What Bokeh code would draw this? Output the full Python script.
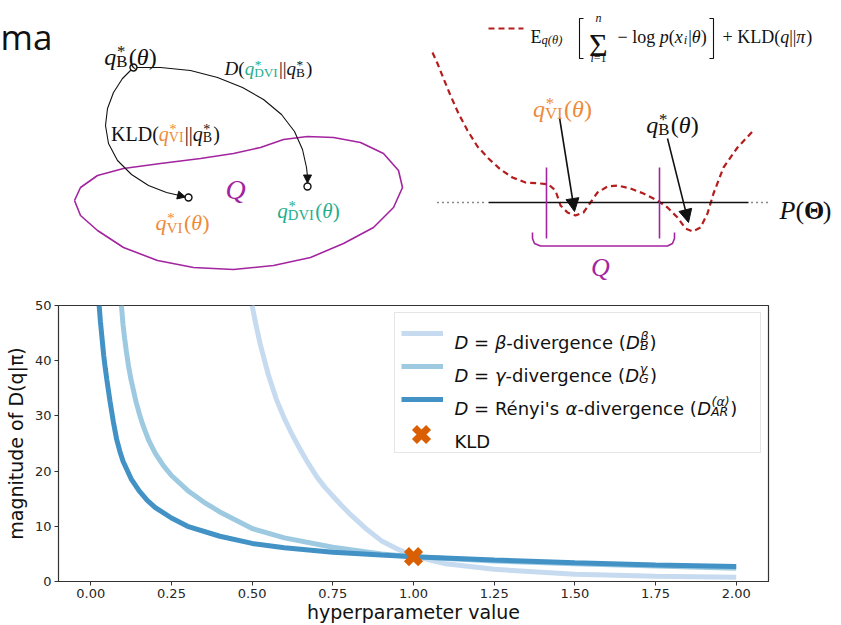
from bokeh.plotting import figure
from bokeh.layouts import column
from bokeh.models import (Range1d, Label, Arrow, NormalHead, Legend, LegendItem,
                          FixedTicker, NumeralTickFormatter)
from bokeh.core.properties import value
from bokeh.embed import file_html
from bokeh.resources import INLINE

# ---------------- chart data ----------------
x_ticks = [0.0, 0.25, 0.5, 0.75, 1.0, 1.25, 1.5, 1.75, 2.0]
y_ticks = [0, 10, 20, 30, 40, 50]

beta_x = [0.50, 0.51, 0.525, 0.55, 0.575, 0.60, 0.625, 0.65, 0.675, 0.70, 0.725, 0.75, 0.775, 0.80, 0.85, 0.90, 0.95, 1.00, 1.10, 1.25, 1.50, 1.75, 2.00]
beta_y = [50.0, 47.0, 43.0, 37.5, 33.0, 29.5, 26.5, 23.8, 21.3, 19.0, 17.1, 15.5, 13.9, 12.4, 9.7, 7.4, 5.9, 4.6, 3.2, 2.2, 1.3, 0.95, 0.75]

gamma_x = [0.095, 0.10, 0.105, 0.11, 0.117, 0.125, 0.14, 0.15, 0.16, 0.17, 0.18, 0.20, 0.225, 0.25, 0.30, 0.35, 0.40, 0.50, 0.60, 0.75, 0.90, 1.00, 1.25, 1.50, 1.75, 2.00]
gamma_y = [50.0, 46.5, 44.0, 41.8, 39.0, 36.5, 32.6, 30.5, 28.6, 27.0, 25.5, 23.2, 21.0, 19.2, 16.5, 14.4, 12.6, 9.6, 7.9, 6.2, 5.0, 4.5, 3.7, 3.2, 2.8, 2.4]

renyi_x = [0.026, 0.03, 0.035, 0.04, 0.045, 0.05, 0.06, 0.07, 0.08, 0.09, 0.10, 0.125, 0.15, 0.175, 0.20, 0.25, 0.30, 0.40, 0.50, 0.60, 0.75, 0.90, 1.00, 1.25, 1.50, 1.75, 2.00]
renyi_y = [50.0, 47.0, 44.0, 41.0, 38.6, 36.5, 32.5, 28.9, 25.8, 23.6, 21.8, 18.6, 16.4, 14.7, 13.4, 11.5, 10.0, 8.2, 6.9, 6.1, 5.3, 4.8, 4.5, 3.9, 3.4, 3.0, 2.7]

kld_x = [1.0]
kld_y = [4.5]

x_title = "hyperparameter value"
y_title = "magnitude of D(q|π)"

# legend entries: runs of (kind, text, style)
legend_rows = [
    [("t", "D", "italic"), ("t", " = ", "normal"), ("t", "β", "italic"), ("t", "-divergence (", "normal"),
     ("t", "D", "italic"), ("ss", "β", "B", "italic"), ("t", ")", "normal")],
    [("t", "D", "italic"), ("t", " = ", "normal"), ("t", "γ", "italic"), ("t", "-divergence (", "normal"),
     ("t", "D", "italic"), ("ss", "γ", "G", "italic"), ("t", ")", "normal")],
    [("t", "D", "italic"), ("t", " = ", "normal"), ("t", "Rényi's ", "normal"), ("t", "α", "italic"),
     ("t", "-divergence (", "normal"), ("t", "D", "italic"), ("ss", "(α)", "AR", "italic"), ("t", ")", "normal")],
    [("t", "KLD", "normal")],
]

# ---------------- schematic geometry (page pixels) ----------------
blob_x = [74, 80, 97, 123, 160, 200, 233, 260, 283, 307, 333, 360, 383, 398, 402, 393, 373, 343, 310, 273, 233, 193, 157, 123, 97, 80, 74]
blob_y = [200, 187, 175, 168, 163, 158, 153, 147, 139, 136, 137, 142, 153, 170, 187, 207, 227, 243, 257, 265, 269, 267, 260, 247, 230, 215, 200]
arc_vi_x = [133, 122, 113, 107, 105, 108, 117, 131, 148, 166, 179, 185]
arc_vi_y = [67, 78, 92, 108, 125, 143, 160, 174, 185, 192, 195, 196.5]
arc_dvi_x = [133, 160, 190, 217, 242, 263, 281, 294, 302, 306, 307, 307]
arc_dvi_y = [67, 67, 70, 77, 87, 99, 114, 131, 149, 167, 176, 182.5]
node_x = [133, 188, 307]
node_y = [67, 197, 186]

obj_x = [432, 437, 443, 450, 458, 467, 477, 488, 500, 512, 525, 540, 548, 555, 560, 567, 575, 583, 590, 597, 607, 617, 630, 643, 657, 667, 677, 685, 692, 700, 707, 713, 723, 737, 753]
obj_y = [52, 63, 78, 95, 113, 130, 146, 158, 169, 177, 182, 183, 184, 190, 205, 212, 215, 212, 202, 192, 186, 185, 188, 193, 200, 207, 217, 228, 231, 227, 213, 193, 167, 147, 130]
key_x = [488, 523]
key_y = [28, 28]
space_x = [488, 748]
space_y = [202, 202]
dots_l_x = [437, 484]
dots_r_x = [751, 768]
bar_x = [546, 659]
bar_y = [167, 238]
brace_x = [532, 532, 534, 540, 667, 672, 674, 674]
brace_y = [232, 238, 243, 245.5, 245.5, 243, 238, 232]
lbrack_x = [583, 579, 579, 583]
rbrack_x = [709, 713, 713, 709]
brack_y = [18, 18, 58, 58]
ptr_vi = [559, 117, 574, 211]
ptr_b = [667, 138, 688, 222]

BLACK = "#111111"
ORANGE = "#ee8a3a"
TEAL = "#22ae8c"
PURPLE = "#a3249f"
RED = "#b51d1d"

SERIF = "Liberation Serif"
SANS = "DejaVu Sans"

SERIF_W = {' ': .25, '(': .333, ')': .333, '*': .5, '+': .564, '=': .564, '−': .564, '|': .2,
           '1': .5, 'q': .5, 'g': .5, 'o': .5, 'l': .278, 'p': .5, 'x': .5, 'i': .278, 'n': .5,
           'K': .722, 'L': .611, 'D': .722, 'V': .722, 'I': .333, 'B': .667, 'E': .611, 'P': .611,
           'Q': .722, 'θ': .5, 'π': .55, 'Σ': .6, 'Θ': .722}
SANS_W = {' ': .318, "'": .275, '(': .39, ')': .39, '-': .361, '.': .318, '=': .838, '|': .337,
          'a': .613, 'b': .635, 'c': .55, 'd': .635, 'e': .615, 'f': .352, 'g': .635, 'h': .634,
          'i': .278, 'k': .579, 'l': .278, 'm': .974, 'n': .634, 'o': .612, 'p': .635, 'q': .635,
          'r': .411, 's': .521, 't': .392, 'u': .634, 'v': .592, 'y': .592, 'é': .615,
          'A': .684, 'B': .686, 'D': .77, 'G': .775, 'K': .656, 'L': .557, 'R': .695,
          'α': .659, 'β': .636, 'γ': .592, 'π': .6}


def tw(s, size, table):
    w = 0.0
    for ch in s:
        if ch in table:
            w += table[ch]
        elif ch.isupper():
            w += 0.68
        else:
            w += 0.5
    return w * size


def draw_math(fig, px, py, segs, size, font, table, to_data, align="center", color=BLACK, level="annotation"):
    runs = []
    cx = 0.0
    for seg in segs:
        kind = seg[0]
        if kind == "t":
            txt, style = seg[1], seg[2]
            col = seg[3] if len(seg) > 3 else color
            runs.append((txt, cx, 0.0, size, style, col))
            cx += tw(txt, size, table)
        elif kind == "ss":
            sup, sub, style = seg[1], seg[2], seg[3]
            col = seg[4] if len(seg) > 4 else color
            s2 = size * 0.7
            if sup:
                up = -0.22 * size if sup == "*" else -0.36 * size
                runs.append((sup, cx + 0.03 * size, up, s2, style, col))
            if sub:
                runs.append((sub, cx, 0.22 * size, s2, style, col))
            cx += max(tw(sup, s2, table), tw(sub, s2, table)) + 0.06 * size
    x0 = px - cx / 2 if align == "center" else px
    for txt, dx, dy, sz, style, col in runs:
        lead = len(txt) - len(txt.lstrip(" "))
        shown = txt.strip(" ")
        if not shown:
            continue
        X, Y = to_data(x0 + dx + tw(" " * lead, sz, table), py + dy)
        fig.add_layout(Label(x=X, y=Y, text=shown, text_font=font, text_font_size=f"{sz:.1f}px",
                             text_font_style=style, text_color=col, level=level,
                             text_baseline="alphabetic", text_align="left"))


def ident(x, y):
    return (x, y)


# ======================= top schematic =======================
top = figure(width=841, height=290, x_range=Range1d(0, 841), y_range=Range1d(290, 0),
             output_backend="svg", toolbar_location=None, min_border=0,
             x_axis_location=None, y_axis_location=None)
top.frame_align = False
top.grid.visible = False
top.outline_line_color = None

top.add_layout(Label(x=0, y=36, text="ma", text_font="Open Sans", text_font_size="35px",
                     text_color="#111111", text_align="left", text_baseline="alphabetic"))

# left panel
top.line(blob_x, blob_y, line_color=PURPLE, line_width=1.6)
top.line(arc_vi_x, arc_vi_y, line_color=BLACK, line_width=1.1)
top.line(arc_dvi_x, arc_dvi_y, line_color=BLACK, line_width=1.1)
for ax_, ay_ in ((arc_vi_x, arc_vi_y), (arc_dvi_x, arc_dvi_y)):
    top.add_layout(Arrow(end=NormalHead(size=8, fill_color=BLACK, line_color=BLACK),
                         x_start=ax_[-2], y_start=ay_[-2], x_end=ax_[-1], y_end=ay_[-1],
                         line_color=BLACK, line_width=1.1))
top.scatter(node_x, node_y, marker="circle", size=7, fill_color="white", line_color=BLACK, line_width=1.4)

qb = [("t", "q", "italic"), ("ss", "*", "B", "normal"), ("t", "(", "normal"), ("t", "θ", "italic"), ("t", ")", "normal")]
draw_math(top, 130, 56, qb, 24, SERIF, SERIF_W, ident)
draw_math(top, 165, 133, [("t", "KLD(", "normal"), ("t", "q", "italic", ORANGE), ("ss", "*", "VI", "normal", ORANGE),
                          ("t", "||", "normal"), ("t", "q", "italic"), ("ss", "*", "B", "normal"), ("t", ")", "normal")],
          20, SERIF, SERIF_W, ident)
draw_math(top, 268, 68, [("t", "D", "italic"), ("t", "(", "normal"), ("t", "q", "italic", TEAL), ("ss", "*", "DVI", "normal", TEAL),
                         ("t", "||", "normal"), ("t", "q", "italic"), ("ss", "*", "B", "normal"), ("t", ")", "normal")],
          19, SERIF, SERIF_W, ident)
draw_math(top, 235, 189, [("t", "Q", "italic")], 28, SERIF, SERIF_W, ident, color=PURPLE)
qvi = [("t", "q", "italic"), ("ss", "*", "VI", "normal"), ("t", "(", "normal"), ("t", "θ", "italic"), ("t", ")", "normal")]
draw_math(top, 182, 222, qvi, 22, SERIF, SERIF_W, ident, color=ORANGE)
qdvi = [("t", "q", "italic"), ("ss", "*", "DVI", "normal"), ("t", "(", "normal"), ("t", "θ", "italic"), ("t", ")", "normal")]
draw_math(top, 308, 210, qdvi, 21, SERIF, SERIF_W, ident, color=TEAL)

# right panel
top.line(key_x, key_y, line_color=RED, line_width=2.2, line_dash="6 4")
top.line(obj_x, obj_y, line_color=RED, line_width=2.2, line_dash="6 4")
top.line(space_x, space_y, line_color=BLACK, line_width=1.6)
top.line(dots_l_x, space_y, line_color=BLACK, line_width=1.6, line_dash="1 4")
top.line(dots_r_x, space_y, line_color=BLACK, line_width=1.6, line_dash="1 4")
for bx in bar_x:
    top.line([bx, bx], bar_y, line_color=PURPLE, line_width=1.6)
top.line(brace_x, brace_y, line_color=PURPLE, line_width=1.6)
top.line(lbrack_x, brack_y, line_color=BLACK, line_width=1.1)
top.line(rbrack_x, brack_y, line_color=BLACK, line_width=1.1)
for a in (ptr_vi, ptr_b):
    top.add_layout(Arrow(end=NormalHead(size=13, fill_color=BLACK, line_color=BLACK),
                         x_start=a[0], y_start=a[1], x_end=a[2], y_end=a[3],
                         line_color=BLACK, line_width=1.6))

draw_math(top, 530, 36, [("t", "E", "normal"), ("ss", "", "q(θ)", "italic")], 18, SERIF, SERIF_W, ident, align="left")
draw_math(top, 598, 44, [("t", "Σ", "normal")], 32, SERIF, SERIF_W, ident)
draw_math(top, 598, 17, [("t", "n", "italic")], 12, SERIF, SERIF_W, ident)
draw_math(top, 598, 57, [("t", "i", "italic"), ("t", "=1", "normal")], 12, SERIF, SERIF_W, ident)
draw_math(top, 617, 36, [("t", "−", "normal"), ("t", " log", "normal"), ("t", " p", "italic"), ("t", "(", "normal"),
                         ("t", "x", "italic"), ("ss", "", "i", "italic"), ("t", "|", "normal"), ("t", "θ", "italic"),
                         ("t", ")", "normal")],
          18, SERIF, SERIF_W, ident, align="left")
draw_math(top, 722, 36, [("t", "+", "normal"), ("t", " KLD(", "normal"), ("t", "q", "italic"), ("t", "||", "normal"),
                         ("t", "π", "italic"), ("t", ")", "normal")], 18, SERIF, SERIF_W, ident, align="left")
draw_math(top, 562, 108, qvi, 24, SERIF, SERIF_W, ident, color=ORANGE)
draw_math(top, 672, 124, qb, 24, SERIF, SERIF_W, ident)
draw_math(top, 805, 210, [("t", "P", "italic"), ("t", "(", "normal"), ("t", "Θ", "bold"), ("t", ")", "normal")],
          26, SERIF, SERIF_W, ident)
draw_math(top, 600, 267, [("t", "Q", "italic")], 26, SERIF, SERIF_W, ident, color=PURPLE)

# ======================= bottom chart =======================
FX0, FX1, FY0, FY1 = 58, 768, 305, 581
XR = (-0.1, 2.1)
YR = (0, 50)
TOP_H = 290


def chart_xy(px, py):
    return (XR[0] + (px - FX0) / (FX1 - FX0) * (XR[1] - XR[0]),
            YR[0] + (FY1 - py) / (FY1 - FY0) * (YR[1] - YR[0]))


p = figure(width=841, height=625 - TOP_H, x_range=Range1d(*XR), y_range=Range1d(*YR),
           output_backend="svg", toolbar_location=None,
           min_border_left=FX0, min_border_right=841 - FX1, min_border_top=FY0 - TOP_H,
           min_border_bottom=625 - FY1)
p.frame_align = False
p.grid.visible = False
p.outline_line_color = "#333333"
p.outline_line_width = 1.2
p.xaxis.ticker = FixedTicker(ticks=x_ticks)
p.xaxis.formatter = NumeralTickFormatter(format="0.00")
p.yaxis.ticker = FixedTicker(ticks=y_ticks)
for ax in p.axis:
    ax.axis_line_color = "#333333"
    ax.major_tick_line_color = "#333333"
    ax.major_tick_out = 4
    ax.major_tick_in = 0
    ax.minor_tick_line_color = None
    ax.major_label_text_font = SANS
    ax.major_label_text_font_size = "13px"
    ax.major_label_text_color = "#262626"
    ax.axis_label_text_font = SANS
    ax.axis_label_text_font_size = "19px"
    ax.axis_label_text_font_style = "normal"
    ax.axis_label_text_color = "#111111"
p.xaxis.axis_label = x_title
p.xaxis.major_label_standoff = 3
p.xaxis.axis_label_standoff = 0
p.yaxis.axis_label = y_title
p.yaxis.major_label_standoff = 3
p.yaxis.axis_label_standoff = 5

r_beta = p.line(beta_x, beta_y, line_color="#c6dbef", line_width=5)
r_gamma = p.line(gamma_x, gamma_y, line_color="#9ecae1", line_width=5)
r_renyi = p.line(renyi_x, renyi_y, line_color="#4292c6", line_width=5)
r_kld = p.scatter(kld_x, kld_y, marker="x", size=20, line_width=7, line_color="#d95f02")
r_kld_key = p.scatter(kld_x, kld_y, marker="x", size=20, line_width=7, line_color="#d95f02", line_alpha=0)

legend = Legend(items=[LegendItem(label=value(" "), renderers=[r]) for r in (r_beta, r_gamma, r_renyi, r_kld_key)],
                location=(336, 128), glyph_width=42, glyph_height=28, label_height=28, label_width=299,
                label_standoff=12, padding=6, spacing=5, margin=0,
                border_line_color="#cccccc", border_line_width=1, background_fill_alpha=0.0,
                label_text_font_size="13px")
p.add_layout(legend)

# KLD key marker inside the legend box
kx, ky = chart_xy(421, 434)
key_marker = p.scatter([kx], [ky], marker="x", size=20, line_width=7, line_color="#d95f02")

for i, row in enumerate(legend_rows):
    draw_math(p, 454, 341.5 + 33 * i, row, 18, SANS, SANS_W, chart_xy, align="left")

layout = column(top, p, spacing=0)
open("out.html", "w").write(file_html(layout, INLINE))
